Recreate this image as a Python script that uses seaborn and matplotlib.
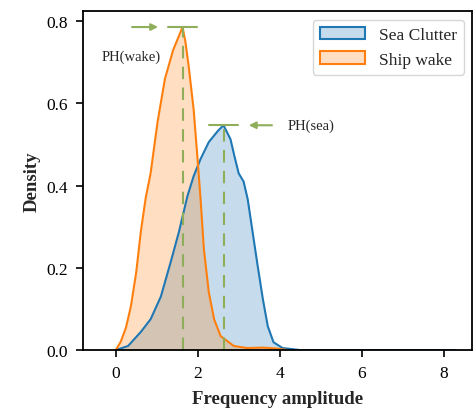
import matplotlib
matplotlib.use("Agg")
import matplotlib.pyplot as plt
from matplotlib.patches import Patch
import pandas as pd
import seaborn as sns

# density curves
sea_x = [0.0, 0.3, 0.61, 0.85, 1.1, 1.34, 1.54, 1.75, 1.9, 2.07, 2.27, 2.49, 2.63,
         2.8, 2.9, 3.0, 3.12, 3.22, 3.34, 3.46, 3.59, 3.71, 3.85, 4.07, 4.5, 6.0, 8.27]
sea_y = [0.0, 0.01, 0.044, 0.075, 0.13, 0.214, 0.287, 0.375, 0.423, 0.465, 0.506, 0.533, 0.547,
         0.513, 0.47, 0.43, 0.41, 0.367, 0.287, 0.207, 0.124, 0.058, 0.019, 0.005, 0.0, 0.0, 0.0]

wake_x = [0.0, 0.12, 0.25, 0.37, 0.5, 0.61, 0.73, 0.85, 1.02, 1.2, 1.4, 1.54, 1.63, 1.7,
          1.78, 1.9, 2.0, 2.07, 2.15, 2.27, 2.4, 2.56, 2.88, 3.2, 3.6, 3.9, 4.2]
wake_y = [0.0, 0.02, 0.055, 0.107, 0.19, 0.287, 0.37, 0.43, 0.555, 0.66, 0.73, 0.764, 0.786, 0.75,
          0.69, 0.586, 0.46, 0.367, 0.246, 0.141, 0.075, 0.034, 0.01, 0.005, 0.006, 0.004, 0.0]

series_names = ["Sea Clutter", "Ship wake"]
colors = ["#1f77b4", "#ff7f0e"]
ph_wake = (1.63, 0.786)
ph_sea = (2.63, 0.547)
mark_color = "#8fae5a"

df = pd.concat([
    pd.DataFrame({"amp": sea_x, "density": sea_y, "group": series_names[0]}),
    pd.DataFrame({"amp": wake_x, "density": wake_y, "group": series_names[1]}),
])

sns.set_style("ticks")
plt.rcParams["font.family"] = ["Liberation Serif", "DejaVu Serif"]

fig = plt.figure(figsize=(4.77, 4.14), dpi=100)
ax = fig.add_axes([0.174, 0.152, 0.816, 0.819])

sns.lineplot(data=df, x="amp", y="density", hue="group", palette=colors,
             linewidth=1.5, legend=False, ax=ax, sort=False)
for name, c in zip(series_names, colors):
    sub = df[df["group"] == name]
    ax.fill_between(sub["amp"], sub["density"], color=c, alpha=0.25, linewidth=0)

# peak markers
for (px, py) in (ph_wake, ph_sea):
    ax.plot([px, px], [0, py], color=mark_color, lw=1.5, ls=(0, (6, 4)))
    ax.plot([px - 0.36, px + 0.36], [py, py], color=mark_color, lw=1.5)

ax.annotate("", xy=(ph_wake[0] - 0.53, ph_wake[1]), xytext=(ph_wake[0] - 1.3, ph_wake[1]),
            arrowprops=dict(arrowstyle="-|>", color=mark_color, lw=1.5))
ax.annotate("", xy=(ph_sea[0] + 0.55, ph_sea[1]), xytext=(ph_sea[0] + 1.25, ph_sea[1]),
            arrowprops=dict(arrowstyle="-|>", color=mark_color, lw=1.5))
ax.text(0.37, 0.715, "PH(wake)", ha="center", va="center", fontsize=10.5)
ax.text(4.2, 0.547, "PH(sea)", ha="left", va="center", fontsize=10.5)

ax.set_xlim(-0.8, 8.7)
ax.set_ylim(0, 0.825)
ax.set_xticks([0, 2, 4, 6, 8])
ax.set_yticks([0.0, 0.2, 0.4, 0.6, 0.8])
ax.tick_params(labelsize=12.5, length=5, width=1.2, colors="black", pad=6)
for s in ax.spines.values():
    s.set_linewidth(1.3)
    s.set_color("black")
ax.set_xlabel("Frequency amplitude", fontsize=13.5, fontweight="bold", labelpad=6)
ax.set_ylabel("Density", fontsize=13.5, fontweight="bold", labelpad=4)

handles = [Patch(facecolor=matplotlib.colors.to_rgba(c, 0.25), edgecolor=c, linewidth=1.5)
           for c in colors]
ax.legend(handles, series_names, loc="upper right", fontsize=12.5, frameon=True,
          handlelength=2.6)

fig.savefig("out.png", dpi=100)
